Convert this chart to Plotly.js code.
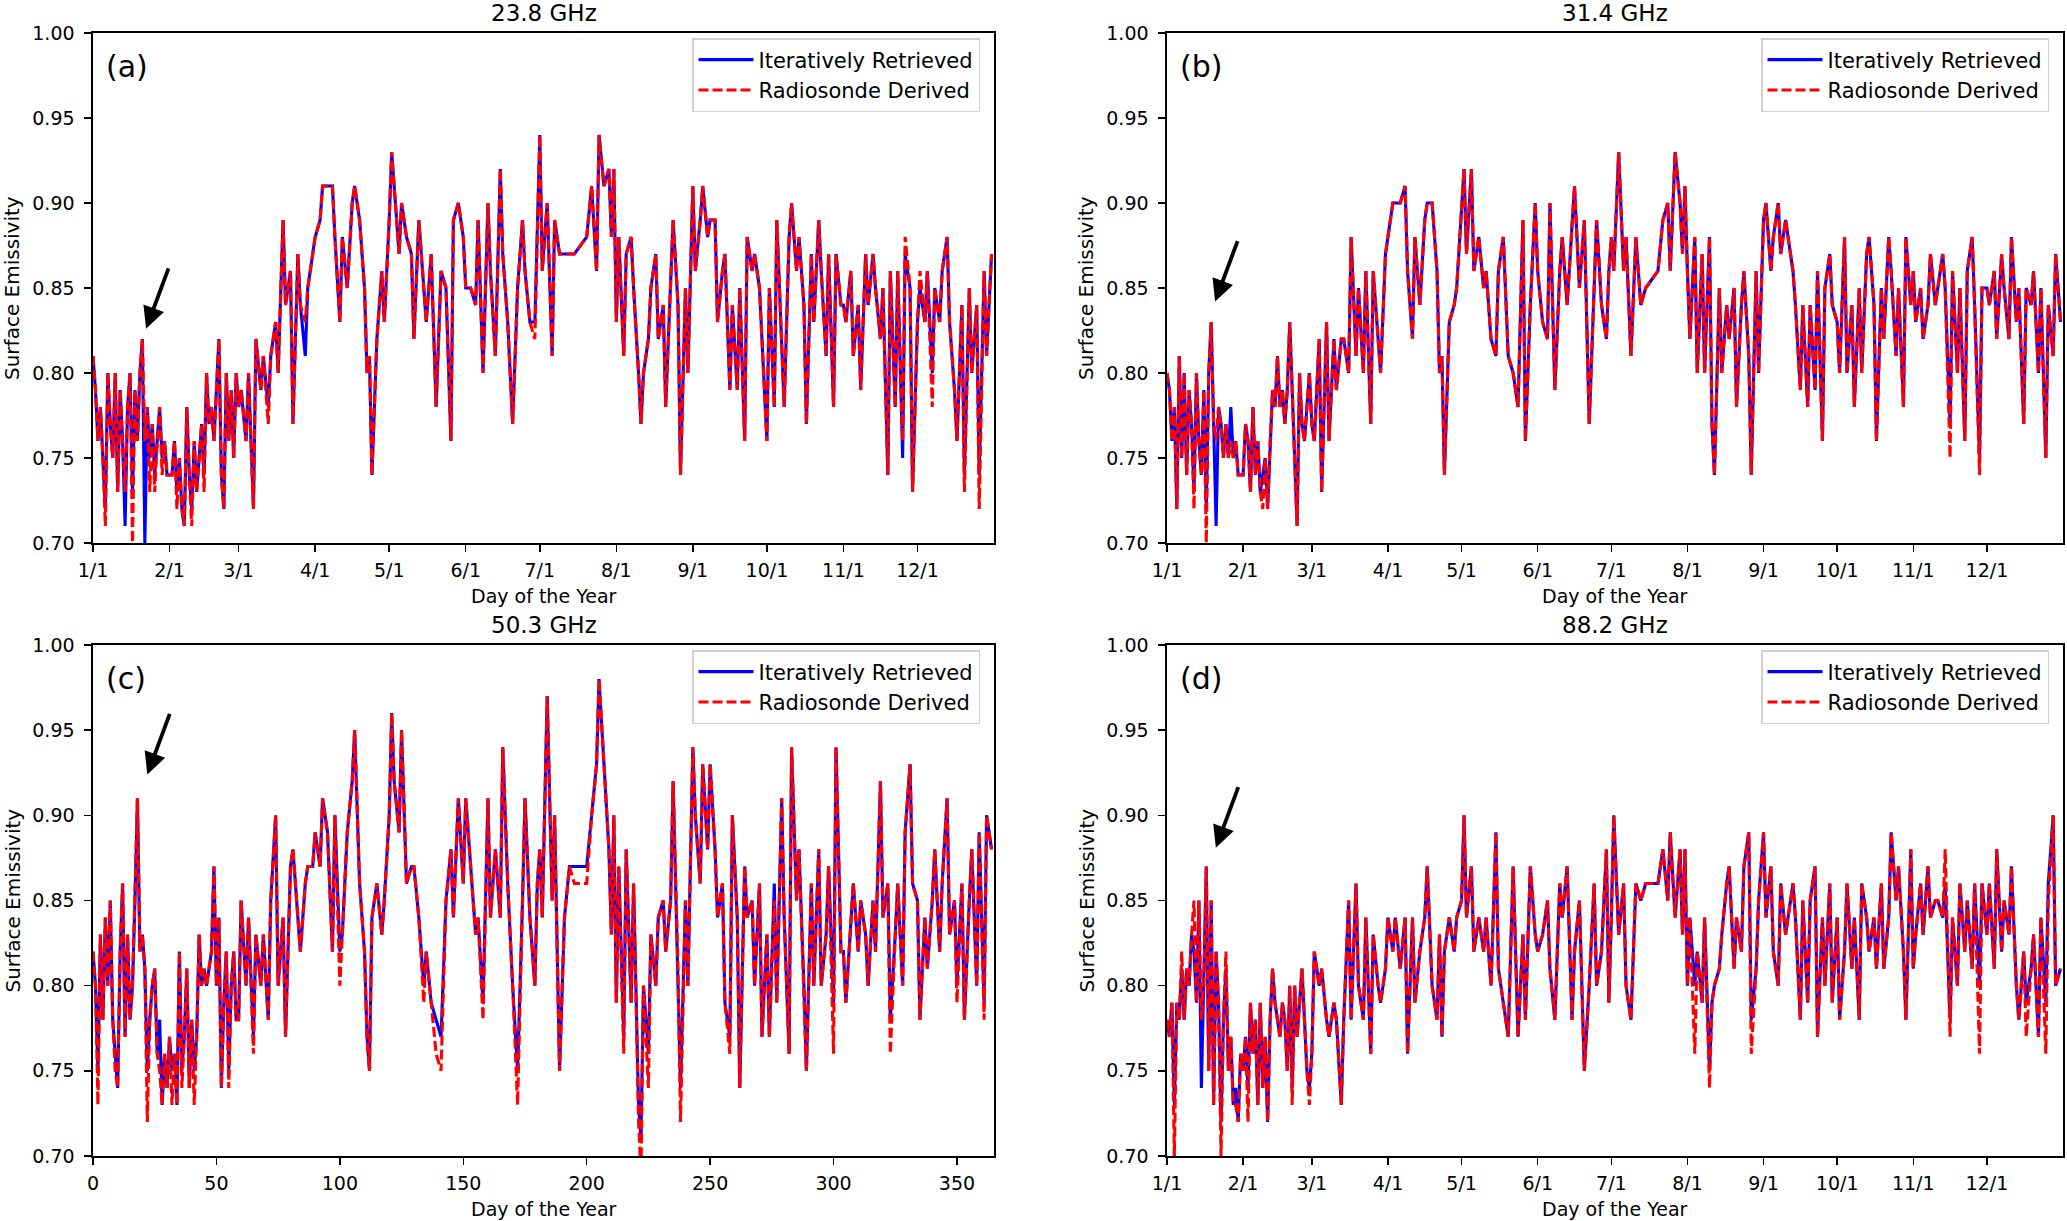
<!DOCTYPE html>
<html>
<head>
<meta charset="utf-8">
<script src="https://cdn.plot.ly/plotly-3.0.1.min.js"></script>
<style>
  body { margin: 0; background: #fff; }
  #emis-plot { width: 2067px; height: 1221px; }
</style>
</head>
<body>
<div id="emis-plot"></div>
<script>
/* day of year of each sounding (0 = Jan 1) */
var days = [
  0,1,2,3,4,5,6,7,8,9,10,11,12,13,14,15,16,17,18,19,20,21,22,23,24,25,26,27,28,29,30,
  31,32,33,34,35,36,37,38,39,40,41,42,43,44,45,46,47,48,49,50,51,52,53,54,55,56,57,58,
  59,60,62,63,65,66,68,69,71,72,74,75,77,78,80,81,83,84,86,87,89,
  90,92,93,95,97,98,100,101,103,105,106,108,110,111,112,113,115,117,118,
  120,121,122,124,125,127,129,130,132,134,135,137,139,141,143,145,146,148,150,
  151,153,155,156,158,160,161,163,165,166,168,170,172,174,175,177,179,180,
  181,182,184,186,187,189,191,193,195,200,202,204,205,207,209,210,211,
  212,213,215,216,218,219,221,222,223,225,226,228,229,231,232,234,235,237,238,240,241,
  243,244,246,247,249,250,252,253,255,256,258,259,261,262,264,265,267,268,270,271,
  273,274,276,277,279,280,282,283,285,286,288,289,291,292,294,295,297,298,300,301,303,
  304,305,307,308,310,311,313,314,316,317,319,320,322,323,325,326,328,329,331,332,
  334,335,337,338,340,341,343,344,346,347,349,350,352,353,355,356,358,359,361,362,364
];

/* 23.8 GHz */
var iter238 = [
  0.81,0.79,0.76,0.78,0.75,0.72,0.80,0.77,0.75,0.80,0.73,0.79,0.76,0.71,0.78,0.80,0.73,0.79,0.76,0.80,0.82,0.70,0.78,0.75,0.77,0.74,0.76,0.78,0.75,0.76,0.74,
  0.74,0.74,0.76,0.73,0.75,0.72,0.71,0.78,0.74,0.72,0.76,0.73,0.75,0.77,0.74,0.80,0.77,0.78,0.76,0.79,0.82,0.74,0.72,0.80,0.76,0.79,0.75,0.80,
  0.78,0.79,0.76,0.80,0.72,0.82,0.79,0.81,0.78,0.81,0.83,0.80,0.89,0.84,0.86,0.77,0.87,0.84,0.81,0.85,0.87,
  0.88,0.89,0.91,0.91,0.91,0.88,0.83,0.88,0.85,0.90,0.91,0.89,0.85,0.80,0.81,0.74,0.82,0.86,0.83,
  0.89,0.93,0.91,0.87,0.90,0.88,0.87,0.82,0.89,0.85,0.83,0.87,0.78,0.86,0.85,0.76,0.89,0.90,0.88,
  0.85,0.85,0.84,0.89,0.80,0.90,0.86,0.81,0.92,0.87,0.83,0.77,0.85,0.89,0.86,0.83,0.83,0.89,
  0.94,0.86,0.90,0.81,0.89,0.87,0.87,0.87,0.87,0.88,0.91,0.86,0.94,0.91,0.92,0.88,0.92,
  0.83,0.88,0.81,0.87,0.88,0.85,0.80,0.77,0.80,0.82,0.85,0.87,0.82,0.84,0.78,0.85,0.89,0.84,0.74,0.85,0.80,
  0.91,0.86,0.89,0.91,0.88,0.89,0.89,0.83,0.86,0.87,0.79,0.84,0.79,0.85,0.76,0.88,0.86,0.87,0.85,0.82,
  0.76,0.85,0.78,0.89,0.82,0.78,0.88,0.90,0.86,0.88,0.84,0.77,0.87,0.83,0.89,0.86,0.81,0.87,0.78,0.87,0.84,
  0.84,0.83,0.86,0.81,0.84,0.79,0.87,0.84,0.87,0.85,0.82,0.85,0.74,0.86,0.78,0.86,0.75,0.87,0.85,0.73,
  0.83,0.85,0.83,0.86,0.80,0.85,0.83,0.86,0.88,0.83,0.79,0.76,0.84,0.74,0.85,0.80,0.84,0.74,0.86,0.81,0.87
];
var sonde238 = [
  0.81,0.79,0.76,0.78,0.75,0.71,0.80,0.77,0.75,0.80,0.73,0.79,0.76,0.73,0.78,0.80,0.70,0.79,0.76,0.80,0.82,0.76,0.78,0.73,0.77,0.73,0.76,0.78,0.74,0.76,0.74,
  0.74,0.74,0.76,0.72,0.75,0.72,0.71,0.78,0.74,0.71,0.76,0.73,0.75,0.77,0.73,0.80,0.77,0.78,0.76,0.79,0.82,0.74,0.72,0.80,0.76,0.79,0.75,0.80,
  0.78,0.79,0.76,0.80,0.72,0.82,0.79,0.81,0.77,0.81,0.83,0.80,0.89,0.84,0.86,0.77,0.87,0.84,0.83,0.85,0.87,
  0.88,0.89,0.91,0.91,0.91,0.88,0.83,0.88,0.85,0.90,0.91,0.89,0.85,0.80,0.81,0.74,0.82,0.86,0.83,
  0.89,0.93,0.91,0.87,0.90,0.88,0.87,0.82,0.89,0.85,0.83,0.87,0.78,0.86,0.85,0.76,0.89,0.90,0.88,
  0.85,0.85,0.84,0.89,0.80,0.90,0.86,0.81,0.92,0.87,0.83,0.77,0.85,0.89,0.86,0.83,0.82,0.89,
  0.94,0.86,0.90,0.81,0.89,0.87,0.87,0.87,0.87,0.88,0.91,0.86,0.94,0.91,0.92,0.88,0.92,
  0.83,0.88,0.81,0.87,0.88,0.85,0.80,0.77,0.80,0.82,0.85,0.87,0.82,0.84,0.78,0.85,0.89,0.84,0.74,0.85,0.80,
  0.91,0.86,0.89,0.91,0.88,0.89,0.89,0.83,0.86,0.87,0.79,0.84,0.79,0.85,0.76,0.88,0.86,0.87,0.85,0.82,
  0.76,0.85,0.78,0.89,0.82,0.78,0.88,0.90,0.86,0.88,0.84,0.77,0.87,0.83,0.89,0.86,0.81,0.87,0.78,0.87,0.84,
  0.84,0.83,0.86,0.81,0.84,0.79,0.87,0.84,0.87,0.85,0.82,0.85,0.74,0.86,0.78,0.86,0.76,0.88,0.85,0.73,
  0.83,0.86,0.83,0.86,0.78,0.85,0.83,0.86,0.88,0.83,0.79,0.76,0.84,0.73,0.85,0.80,0.84,0.72,0.86,0.81,0.87
];

/* 31.4 GHz */
var iter314 = [
  0.80,0.79,0.76,0.78,0.72,0.81,0.75,0.80,0.74,0.79,0.77,0.73,0.80,0.76,0.74,0.79,0.72,0.80,0.83,0.77,0.71,0.78,0.77,0.75,0.77,0.75,0.78,0.75,0.76,0.74,0.74,
  0.74,0.77,0.76,0.73,0.78,0.74,0.76,0.73,0.74,0.75,0.72,0.76,0.79,0.78,0.81,0.78,0.79,0.77,0.79,0.83,0.79,0.75,0.71,0.80,0.77,0.76,0.78,0.80,
  0.77,0.76,0.82,0.73,0.83,0.76,0.82,0.79,0.82,0.82,0.80,0.88,0.81,0.85,0.80,0.86,0.77,0.86,0.82,0.80,0.87,
  0.88,0.90,0.90,0.90,0.91,0.86,0.82,0.88,0.84,0.89,0.90,0.90,0.86,0.80,0.81,0.74,0.83,0.84,0.85,
  0.90,0.92,0.87,0.92,0.86,0.88,0.85,0.86,0.82,0.81,0.86,0.88,0.81,0.80,0.78,0.89,0.76,0.84,0.90,
  0.86,0.83,0.82,0.90,0.79,0.86,0.88,0.84,0.89,0.91,0.85,0.89,0.77,0.85,0.89,0.84,0.82,0.86,
  0.88,0.86,0.93,0.86,0.88,0.81,0.88,0.84,0.85,0.86,0.89,0.90,0.86,0.93,0.90,0.87,0.91,
  0.86,0.82,0.88,0.80,0.87,0.80,0.88,0.77,0.74,0.85,0.80,0.84,0.82,0.85,0.78,0.84,0.86,0.81,0.74,0.86,0.80,
  0.89,0.90,0.86,0.88,0.90,0.87,0.89,0.88,0.86,0.84,0.79,0.84,0.78,0.84,0.79,0.86,0.76,0.85,0.87,0.84,
  0.83,0.80,0.88,0.80,0.84,0.78,0.85,0.80,0.87,0.88,0.84,0.76,0.85,0.82,0.88,0.86,0.81,0.85,0.78,0.88,0.84,
  0.86,0.83,0.85,0.82,0.84,0.87,0.84,0.85,0.87,0.85,0.77,0.86,0.80,0.85,0.76,0.86,0.88,0.84,0.75,0.85,
  0.85,0.84,0.86,0.82,0.87,0.85,0.82,0.88,0.83,0.85,0.77,0.85,0.84,0.86,0.80,0.85,0.75,0.84,0.81,0.87,0.83
];
var sonde314 = [
  0.80,0.79,0.76,0.78,0.72,0.81,0.75,0.80,0.74,0.79,0.77,0.72,0.80,0.76,0.74,0.79,0.70,0.80,0.83,0.77,0.76,0.78,0.77,0.75,0.77,0.75,0.76,0.75,0.76,0.74,0.74,
  0.74,0.77,0.76,0.73,0.78,0.74,0.76,0.73,0.72,0.75,0.72,0.76,0.79,0.78,0.81,0.78,0.79,0.77,0.79,0.83,0.79,0.75,0.71,0.80,0.77,0.76,0.78,0.80,
  0.77,0.76,0.82,0.73,0.83,0.76,0.82,0.79,0.82,0.82,0.80,0.88,0.81,0.85,0.80,0.86,0.77,0.86,0.82,0.80,0.87,
  0.88,0.90,0.90,0.90,0.91,0.86,0.82,0.88,0.84,0.89,0.90,0.90,0.86,0.80,0.81,0.74,0.83,0.84,0.85,
  0.90,0.92,0.87,0.92,0.86,0.88,0.85,0.86,0.82,0.81,0.86,0.88,0.81,0.80,0.78,0.89,0.76,0.84,0.90,
  0.86,0.83,0.82,0.90,0.79,0.86,0.88,0.84,0.89,0.91,0.85,0.89,0.77,0.85,0.89,0.84,0.82,0.86,
  0.88,0.86,0.93,0.86,0.88,0.81,0.88,0.84,0.85,0.86,0.89,0.90,0.86,0.93,0.90,0.87,0.91,
  0.86,0.82,0.88,0.80,0.87,0.80,0.88,0.77,0.74,0.85,0.80,0.84,0.82,0.85,0.78,0.84,0.86,0.81,0.74,0.86,0.80,
  0.89,0.90,0.86,0.88,0.90,0.87,0.89,0.88,0.86,0.84,0.79,0.84,0.78,0.84,0.79,0.86,0.76,0.85,0.87,0.84,
  0.83,0.80,0.88,0.80,0.84,0.78,0.85,0.80,0.87,0.88,0.84,0.76,0.85,0.82,0.88,0.86,0.81,0.85,0.78,0.88,0.84,
  0.86,0.83,0.85,0.82,0.84,0.87,0.84,0.85,0.87,0.85,0.75,0.86,0.80,0.85,0.76,0.86,0.88,0.84,0.74,0.85,
  0.85,0.84,0.86,0.82,0.87,0.85,0.82,0.88,0.83,0.85,0.77,0.85,0.84,0.86,0.80,0.85,0.75,0.84,0.81,0.87,0.83
];

/* 50.3 GHz */
var iter503 = [
  0.82,0.80,0.75,0.83,0.78,0.84,0.80,0.85,0.78,0.76,0.74,0.82,0.86,0.77,0.83,0.78,0.80,0.85,0.91,0.82,0.83,0.81,0.75,0.78,0.80,0.81,0.76,0.78,0.73,0.76,0.74,
  0.77,0.75,0.76,0.73,0.82,0.75,0.77,0.81,0.74,0.78,0.75,0.77,0.83,0.80,0.81,0.80,0.81,0.82,0.87,0.80,0.84,0.74,0.79,0.82,0.75,0.80,0.82,0.78,
  0.78,0.85,0.80,0.84,0.77,0.83,0.80,0.83,0.78,0.85,0.90,0.80,0.84,0.77,0.87,0.88,0.84,0.82,0.86,0.87,0.87,
  0.89,0.87,0.91,0.89,0.82,0.90,0.82,0.83,0.89,0.92,0.95,0.86,0.82,0.77,0.75,0.84,0.86,0.83,0.85,
  0.90,0.96,0.92,0.89,0.95,0.86,0.87,0.87,0.84,0.80,0.82,0.79,0.78,0.77,0.85,0.88,0.84,0.91,0.86,
  0.91,0.87,0.83,0.84,0.79,0.91,0.84,0.88,0.84,0.94,0.86,0.80,0.75,0.85,0.91,0.84,0.80,0.86,
  0.88,0.84,0.97,0.85,0.90,0.75,0.84,0.87,0.87,0.87,0.90,0.93,0.98,0.93,0.88,0.83,0.90,
  0.79,0.87,0.77,0.88,0.79,0.86,0.73,0.71,0.80,0.76,0.83,0.80,0.84,0.85,0.82,0.85,0.92,0.81,0.74,0.85,0.80,
  0.94,0.90,0.86,0.93,0.88,0.93,0.88,0.84,0.86,0.79,0.77,0.90,0.84,0.74,0.87,0.84,0.85,0.80,0.86,0.77,
  0.83,0.77,0.86,0.79,0.91,0.84,0.76,0.94,0.85,0.88,0.80,0.75,0.86,0.80,0.88,0.80,0.83,0.87,0.79,0.94,0.82,
  0.82,0.79,0.84,0.86,0.82,0.85,0.83,0.80,0.85,0.82,0.92,0.84,0.86,0.78,0.83,0.86,0.80,0.89,0.93,0.86,
  0.85,0.78,0.84,0.81,0.85,0.88,0.82,0.86,0.91,0.83,0.85,0.80,0.86,0.78,0.85,0.88,0.80,0.89,0.79,0.90,0.88
];
var sonde503 = [
  0.82,0.80,0.73,0.83,0.78,0.84,0.80,0.85,0.78,0.75,0.74,0.82,0.86,0.77,0.83,0.78,0.80,0.85,0.91,0.82,0.83,0.81,0.72,0.78,0.80,0.81,0.76,0.75,0.73,0.76,0.74,
  0.77,0.73,0.76,0.73,0.82,0.74,0.77,0.81,0.74,0.78,0.73,0.77,0.83,0.80,0.81,0.80,0.81,0.82,0.87,0.80,0.84,0.74,0.79,0.82,0.74,0.80,0.82,0.78,
  0.78,0.85,0.80,0.84,0.76,0.83,0.80,0.83,0.78,0.85,0.90,0.80,0.84,0.77,0.87,0.88,0.84,0.82,0.86,0.87,0.87,
  0.89,0.87,0.91,0.89,0.82,0.90,0.80,0.83,0.89,0.92,0.95,0.86,0.82,0.77,0.75,0.84,0.86,0.83,0.85,
  0.90,0.96,0.92,0.89,0.95,0.86,0.87,0.87,0.84,0.79,0.82,0.79,0.76,0.75,0.85,0.88,0.84,0.91,0.86,
  0.91,0.87,0.83,0.84,0.78,0.91,0.84,0.88,0.84,0.94,0.86,0.80,0.73,0.85,0.91,0.84,0.80,0.86,
  0.88,0.84,0.97,0.85,0.90,0.75,0.84,0.87,0.86,0.86,0.90,0.93,0.98,0.93,0.88,0.83,0.90,
  0.79,0.87,0.76,0.88,0.79,0.86,0.72,0.69,0.80,0.74,0.83,0.80,0.84,0.85,0.82,0.85,0.92,0.81,0.72,0.85,0.80,
  0.94,0.90,0.86,0.93,0.88,0.93,0.88,0.84,0.86,0.79,0.76,0.90,0.84,0.74,0.87,0.84,0.85,0.80,0.86,0.77,
  0.83,0.77,0.85,0.79,0.91,0.84,0.76,0.94,0.85,0.88,0.80,0.75,0.86,0.80,0.88,0.80,0.83,0.87,0.76,0.94,0.82,
  0.82,0.79,0.84,0.86,0.82,0.85,0.83,0.80,0.85,0.82,0.92,0.84,0.86,0.76,0.83,0.86,0.80,0.89,0.93,0.86,
  0.85,0.78,0.84,0.81,0.85,0.88,0.82,0.86,0.91,0.83,0.85,0.79,0.86,0.78,0.85,0.88,0.80,0.89,0.78,0.90,0.88
];

/* 88.2 GHz */
var iter882 = [
  0.78,0.77,0.79,0.73,0.79,0.78,0.81,0.78,0.81,0.80,0.83,0.82,0.79,0.85,0.74,0.80,0.87,0.75,0.85,0.73,0.82,0.79,0.72,0.78,0.81,0.75,0.77,0.73,0.74,0.72,0.76,
  0.75,0.77,0.74,0.79,0.76,0.78,0.73,0.79,0.74,0.77,0.72,0.78,0.81,0.79,0.78,0.77,0.79,0.78,0.75,0.80,0.74,0.80,0.77,0.79,0.81,0.78,0.75,0.74,
  0.76,0.82,0.80,0.81,0.78,0.77,0.79,0.78,0.73,0.78,0.85,0.78,0.86,0.80,0.78,0.84,0.76,0.83,0.80,0.79,0.81,
  0.84,0.82,0.84,0.81,0.84,0.76,0.84,0.79,0.82,0.84,0.87,0.80,0.78,0.83,0.77,0.82,0.84,0.82,0.84,
  0.85,0.90,0.84,0.87,0.82,0.84,0.82,0.84,0.80,0.89,0.81,0.79,0.77,0.87,0.77,0.83,0.78,0.87,0.83,
  0.82,0.83,0.85,0.81,0.78,0.86,0.84,0.87,0.78,0.82,0.85,0.75,0.80,0.86,0.80,0.82,0.88,0.79,
  0.84,0.90,0.83,0.86,0.80,0.78,0.86,0.85,0.86,0.86,0.88,0.85,0.89,0.84,0.88,0.83,0.88,
  0.80,0.84,0.80,0.82,0.79,0.84,0.75,0.79,0.80,0.81,0.83,0.86,0.87,0.81,0.84,0.82,0.87,0.89,0.78,0.81,0.85,
  0.89,0.84,0.87,0.82,0.80,0.86,0.83,0.84,0.86,0.84,0.78,0.85,0.79,0.85,0.87,0.77,0.84,0.80,0.86,0.79,
  0.84,0.78,0.82,0.86,0.81,0.84,0.78,0.86,0.84,0.82,0.84,0.81,0.86,0.81,0.84,0.89,0.85,0.87,0.82,0.78,0.88,
  0.81,0.83,0.86,0.83,0.87,0.84,0.85,0.85,0.84,0.86,0.78,0.84,0.80,0.86,0.82,0.85,0.81,0.86,0.80,0.86,
  0.83,0.86,0.81,0.88,0.82,0.85,0.83,0.87,0.80,0.78,0.82,0.79,0.81,0.83,0.77,0.84,0.79,0.86,0.90,0.80,0.81
];
var sonde882 = [
  0.78,0.77,0.79,0.70,0.79,0.78,0.82,0.78,0.81,0.80,0.83,0.85,0.79,0.85,0.78,0.80,0.87,0.75,0.85,0.73,0.82,0.79,0.70,0.78,0.82,0.75,0.77,0.73,0.73,0.72,0.76,
  0.75,0.77,0.72,0.79,0.76,0.78,0.73,0.79,0.74,0.77,0.72,0.78,0.81,0.79,0.78,0.77,0.79,0.78,0.75,0.80,0.73,0.80,0.77,0.79,0.81,0.78,0.75,0.73,
  0.76,0.82,0.80,0.81,0.78,0.77,0.79,0.78,0.73,0.78,0.85,0.78,0.86,0.80,0.78,0.84,0.76,0.83,0.80,0.79,0.81,
  0.84,0.82,0.84,0.81,0.84,0.76,0.84,0.79,0.82,0.84,0.87,0.80,0.78,0.83,0.77,0.82,0.84,0.82,0.84,
  0.85,0.90,0.84,0.87,0.82,0.84,0.82,0.84,0.80,0.89,0.81,0.79,0.77,0.87,0.77,0.83,0.78,0.87,0.83,
  0.82,0.83,0.85,0.81,0.78,0.86,0.84,0.87,0.78,0.82,0.85,0.75,0.80,0.86,0.80,0.82,0.88,0.79,
  0.84,0.90,0.83,0.86,0.80,0.78,0.86,0.85,0.86,0.86,0.88,0.85,0.89,0.84,0.88,0.83,0.88,
  0.80,0.84,0.76,0.82,0.79,0.84,0.74,0.79,0.80,0.81,0.83,0.86,0.87,0.81,0.84,0.82,0.87,0.89,0.76,0.81,0.85,
  0.89,0.84,0.87,0.82,0.80,0.86,0.83,0.84,0.86,0.84,0.78,0.85,0.79,0.85,0.87,0.77,0.84,0.80,0.86,0.79,
  0.84,0.78,0.82,0.86,0.81,0.84,0.78,0.86,0.84,0.82,0.84,0.81,0.86,0.81,0.84,0.89,0.85,0.87,0.82,0.78,0.88,
  0.81,0.83,0.86,0.83,0.87,0.84,0.85,0.85,0.84,0.88,0.77,0.84,0.80,0.86,0.82,0.85,0.81,0.86,0.76,0.86,
  0.83,0.86,0.81,0.88,0.82,0.85,0.83,0.87,0.80,0.78,0.82,0.77,0.81,0.83,0.77,0.84,0.76,0.85,0.90,0.80,0.81
];

var monthTicks = [0, 31, 59, 90, 120, 151, 181, 212, 243, 273, 304, 334];
var monthLabels = ['1/1', '2/1', '3/1', '4/1', '5/1', '6/1', '7/1', '8/1', '9/1', '10/1', '11/1', '12/1'];
var dayTicks = [0, 50, 100, 150, 200, 250, 300, 350];
var emisTicks = [0.70, 0.75, 0.80, 0.85, 0.90, 0.95, 1.00];

var panelTitles = ['23.8 GHz', '31.4 GHz', '50.3 GHz', '88.2 GHz'];
var panelLetters = ['(a)', '(b)', '(c)', '(d)'];
var iterSeries = [iter238, iter314, iter503, iter882];
var sondeSeries = [sonde238, sonde314, sonde503, sonde882];
/* tip of the black arrow in each panel (day, emissivity) */
var arrowDay = [21.5, 19.6, 22.0, 19.9];
var arrowEmis = [0.826, 0.842, 0.924, 0.881];

var W = 2067, H = 1221;
var FONT = 'DejaVu Sans';

/* plot area of each panel, in pixels of the picture */
var boxes = [
    {l: 93, r: 994, t: 33, b: 543},
    {l: 1167, r: 2063, t: 33, b: 543},
    {l: 93, r: 994, t: 645, b: 1156},
    {l: 1167, r: 2063, t: 645, b: 1156}
];

var data = [];
var layout = {
    width: W, height: H,
    margin: {l: 0, r: 0, t: 0, b: 0},
    paper_bgcolor: 'white',
    plot_bgcolor: 'white',
    font: {family: FONT, color: 'black'},
    showlegend: true,
    annotations: []
};

for (var i = 0; i < 4; i++) {
    var n = i === 0 ? '' : String(i + 1);
    var bx = boxes[i];
    var legendName = 'legend' + n;

    data.push({
        x: days, y: iterSeries[i],
        xaxis: 'x' + n, yaxis: 'y' + n,
        type: 'scatter', mode: 'lines',
        name: 'Iteratively Retrieved',
        legend: legendName,
        line: {color: 'blue', width: 3.1}
    });
    data.push({
        x: days, y: sondeSeries[i],
        xaxis: 'x' + n, yaxis: 'y' + n,
        type: 'scatter', mode: 'lines',
        name: 'Radiosonde Derived',
        legend: legendName,
        line: {color: 'red', width: 3.1, dash: '10px,4px'}
    });

    var isDays = (i === 2);
    layout['xaxis' + n] = {
        domain: [bx.l / W, bx.r / W],
        anchor: 'y' + n,
        range: [0, 365],
        tickvals: isDays ? dayTicks : monthTicks,
        ticktext: isDays ? dayTicks.map(String) : monthLabels,
        ticks: 'outside', ticklen: 7, tickwidth: 1.5, tickcolor: 'black',
        ticklabelstandoff: 3,
        tickfont: {family: FONT, size: 19, color: 'black'},
        showline: true, mirror: true, linecolor: 'black', linewidth: 1.6,
        showgrid: false, zeroline: false, fixedrange: true
    };
    layout['yaxis' + n] = {
        domain: [1 - bx.b / H, 1 - bx.t / H],
        anchor: 'x' + n,
        range: [0.70, 1.00],
        tickvals: emisTicks,
        tickformat: '.2f',
        ticks: 'outside', ticklen: 7, tickwidth: 1.5, tickcolor: 'black',
        ticklabelstandoff: 6,
        tickfont: {family: FONT, size: 19, color: 'black'},
        showline: true, mirror: true, linecolor: 'black', linewidth: 1.6,
        showgrid: false, zeroline: false, fixedrange: true
    };

    layout[legendName] = {
        x: (bx.r - 14) / W, y: 1 - (bx.t + 5) / H,
        xanchor: 'right', yanchor: 'top',
        bgcolor: 'rgba(255,255,255,0.85)',
        bordercolor: '#d0d0d0', borderwidth: 1.5,
        font: {family: FONT, size: 21, color: 'black'},
        itemwidth: 55,
        tracegroupgap: 0
    };

    var cx = (bx.l + bx.r) / 2 / W;
    // panel title
    layout.annotations.push({
        text: panelTitles[i], xref: 'paper', yref: 'paper',
        x: cx, y: 1 - (bx.t - 20) / H, xanchor: 'center', yanchor: 'middle',
        showarrow: false, font: {family: FONT, size: 23, color: 'black'}
    });
    // x axis title
    layout.annotations.push({
        text: 'Day of the Year', xref: 'paper', yref: 'paper',
        x: cx, y: 1 - (bx.b + 53) / H, xanchor: 'center', yanchor: 'middle',
        showarrow: false, font: {family: FONT, size: 19, color: 'black'}
    });
    // y axis title
    layout.annotations.push({
        text: 'Surface Emissivity', xref: 'paper', yref: 'paper',
        x: (bx.l - 81) / W, y: 1 - (bx.t + bx.b) / 2 / H,
        xanchor: 'center', yanchor: 'middle', textangle: -90,
        showarrow: false, font: {family: FONT, size: 20, color: 'black'}
    });
    // panel letter
    layout.annotations.push({
        text: panelLetters[i], xref: 'paper', yref: 'paper',
        x: (bx.l + 11) / W, y: 1 - (bx.t + 33) / H, xanchor: 'left', yanchor: 'middle',
        showarrow: false, font: {family: FONT, size: 30, color: 'black'}
    });
    // arrow pointing at the early-January peak
    layout.annotations.push({
        text: '', xref: 'x' + n, yref: 'y' + n,
        x: arrowDay[i], y: arrowEmis[i],
        ax: 23, ay: -62, axref: 'pixel', ayref: 'pixel',
        showarrow: true, arrowhead: 2, arrowsize: 1.15, arrowwidth: 3.8,
        arrowcolor: 'black', standoff: 0
    });
}

Plotly.newPlot('emis-plot', data, layout, {displayModeBar: false, staticPlot: true});
</script>
</body>
</html>
